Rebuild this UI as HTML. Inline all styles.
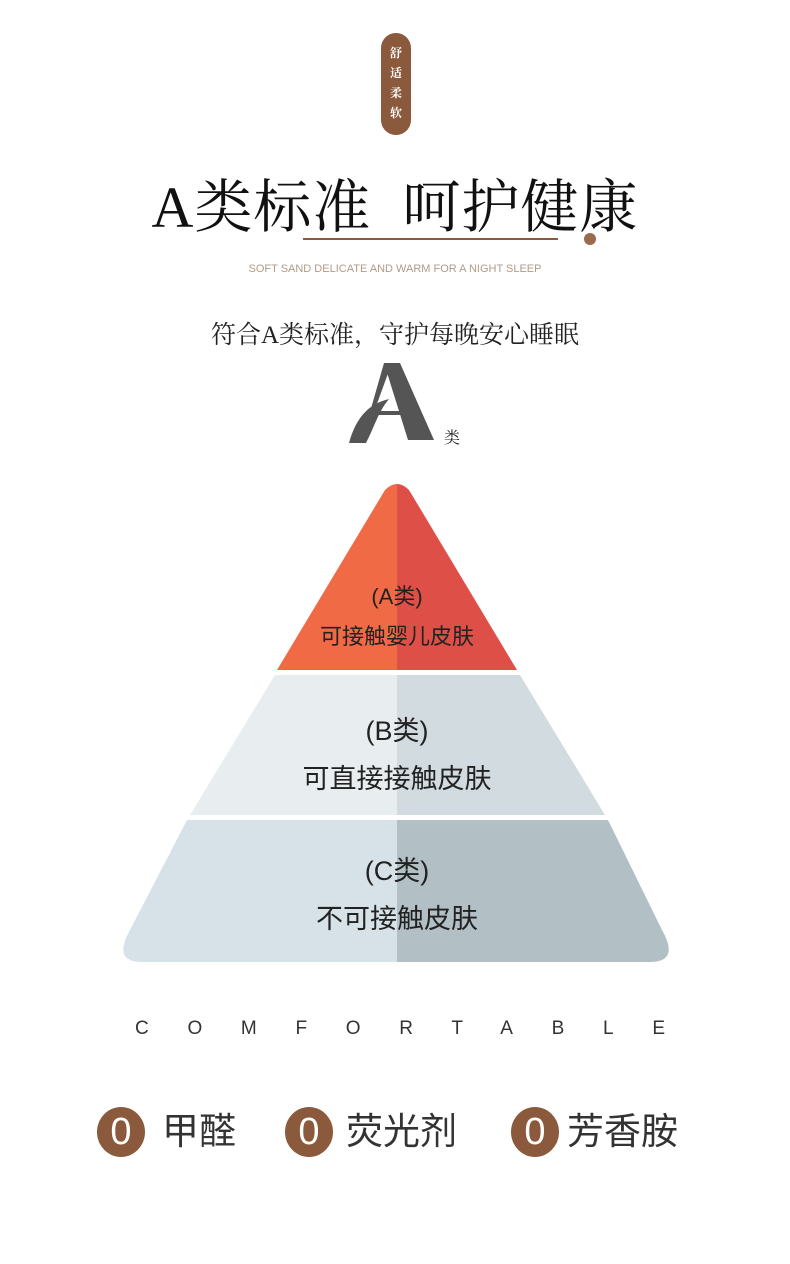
<!DOCTYPE html>
<html><head><meta charset="utf-8"><style>
body{margin:0;width:790px;height:1264px;background:#fff;position:relative;overflow:hidden;font-family:"Liberation Sans","Noto Sans CJK SC",sans-serif}
.a{position:absolute}
.pill{left:381px;top:33px;width:30px;height:102px;border-radius:15px;background:#8b5a3c;color:#fff;font-family:"Liberation Serif","Noto Serif CJK SC",serif;font-size:12px;line-height:20px;text-align:center;padding-top:10px;box-sizing:border-box;font-weight:bold}
.title{left:0;width:790px;top:160px;text-align:center;font-family:"Liberation Serif","Noto Serif CJK SC",serif;font-size:58px;letter-spacing:1px;color:#111;white-space:nowrap}
.c{width:48px;height:50px;border-radius:50%;background:#8b5a3c;color:#fff;font-size:38px;line-height:50px;text-align:center;top:1107px}
.t{top:1108px;font-size:37px;color:#333;line-height:48px}
</style></head><body>
<div class="a pill">舒<br>适<br>柔<br>软</div>
<div class="a title">A类标准&nbsp;&nbsp;呵护健康</div>
<div class="a" style="left:303px;top:238px;width:255px;height:2px;background:#8b5a3c"></div>
<div class="a" style="left:584px;top:233px;width:12px;height:12px;border-radius:50%;background:#9a6a4c"></div>
<div class="a" style="left:0;width:790px;top:263px;text-align:center;font-size:11px;color:#b09a88">SOFT SAND DELICATE AND WARM FOR A NIGHT SLEEP</div>
<div class="a" style="left:0;width:790px;top:315px;text-align:center;font-family:'Liberation Serif','Noto Serif CJK SC',serif;font-size:25px;color:#222">符合A类标准，守护每晚安心睡眠</div>
<svg class="a" style="left:0;top:0" width="790" height="1264">
<polygon points="384,363 400,363 434,440 408,440" fill="#555"/>
<polygon points="384,363 390,368 374,412 370,412" fill="#555"/>
<rect x="372" y="411" width="36" height="4" fill="#555"/>
<path d="M349,443 C356,418 368,404 389,399 C378,412 374,428 366,443 Z" fill="#555"/>
<text x="444" y="443" font-family="Liberation Serif,Noto Serif CJK SC,serif" font-size="16" fill="#222">类</text>
<defs><clipPath id="L"><rect x="0" y="0" width="397" height="1000"/></clipPath><clipPath id="R"><rect x="397" y="0" width="400" height="1000"/></clipPath></defs>
<g clip-path="url(#L)">
<path d="M385,490 Q397,478 409,490 L517,670 L277,670 Z" fill="#f06a45"/>
<path d="M275,675 L520,675 L605,815 L190,815 Z" fill="#e8eef0"/>
<path d="M187,820 L608,820 L662,930 Q680,962 650,962 L142,962 Q112,962 130,930 Z" fill="#d6e2e8"/>
</g>
<g clip-path="url(#R)">
<path d="M385,490 Q397,478 409,490 L517,670 L277,670 Z" fill="#de4f47"/>
<path d="M275,675 L520,675 L605,815 L190,815 Z" fill="#d2dbdf"/>
<path d="M187,820 L608,820 L662,930 Q680,962 650,962 L142,962 Q112,962 130,930 Z" fill="#b2bfc5"/>
</g>
<g font-family="Liberation Sans,Noto Sans CJK SC,sans-serif" fill="#222" text-anchor="middle">
<text x="397" y="604" font-size="22">(A类)</text>
<text x="397" y="644" font-size="22">可接触婴儿皮肤</text>
<text x="397" y="740" font-size="27">(B类)</text>
<text x="397" y="788" font-size="27">可直接接触皮肤</text>
<text x="397" y="880" font-size="27">(C类)</text>
<text x="397" y="928" font-size="27">不可接触皮肤</text>
</g>
<text x="135" y="1034" font-family="Liberation Sans,sans-serif" font-size="19" fill="#333" textLength="530" lengthAdjust="spacing">COMFORTABLE</text>
</svg>
<div class="a c" style="left:97px">0</div><div class="a t" style="left:162px">甲醛</div>
<div class="a c" style="left:285px">0</div><div class="a t" style="left:346px">荧光剂</div>
<div class="a c" style="left:511px">0</div><div class="a t" style="left:567px">芳香胺</div>
</body></html>
